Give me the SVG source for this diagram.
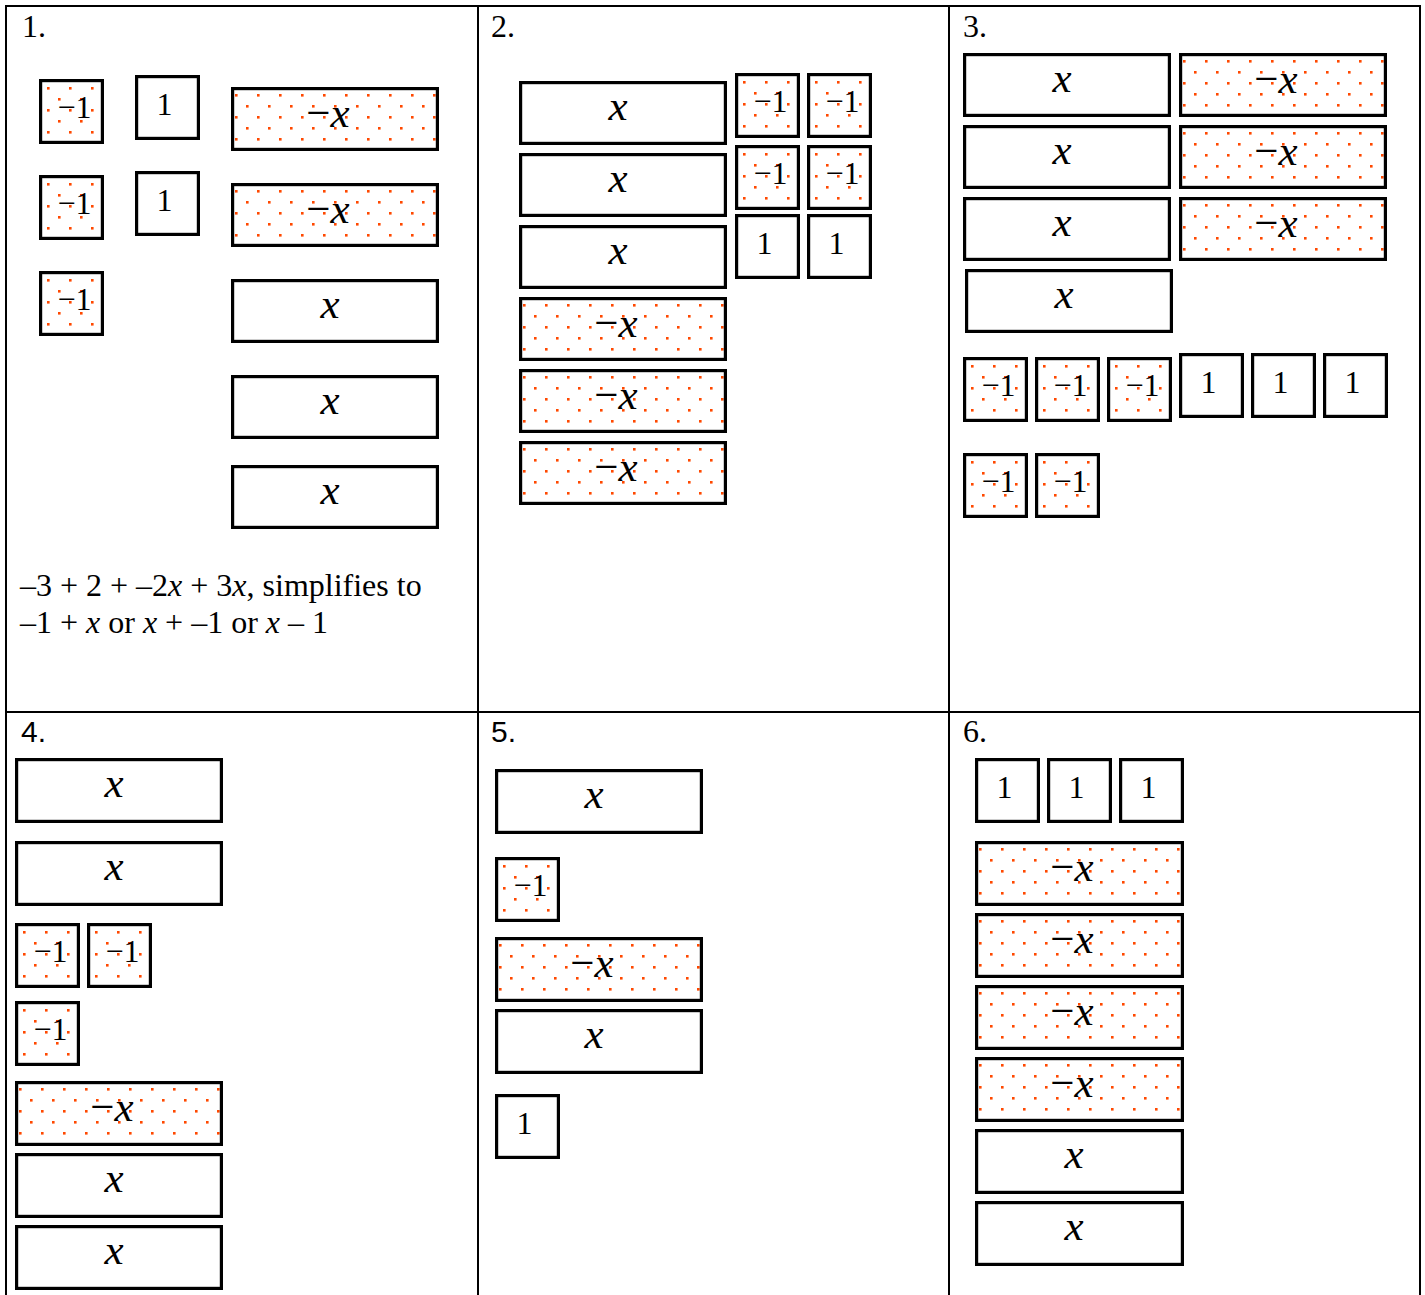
<svg xmlns="http://www.w3.org/2000/svg" width="1425" height="1295" viewBox="0 0 1425 1295">
<defs>
<pattern id="dotsS" patternUnits="userSpaceOnUse" x="0" y="0" width="22" height="22">
<rect x="8" y="8" width="2.6" height="2.6" fill="#ff4800"/>
<rect x="19" y="19" width="2.6" height="2.6" fill="#ff4800"/>
</pattern>
<pattern id="dotsL" patternUnits="userSpaceOnUse" x="0" y="0" width="22" height="22">
<rect x="4" y="7" width="2.6" height="2.6" fill="#ff4800"/>
<rect x="15" y="18" width="2.6" height="2.6" fill="#ff4800"/>
</pattern>
</defs>
<style>
.grid{stroke:#000;stroke-width:2;fill:none}
.s{fill:#fff;stroke:#000;stroke-width:3.2}
.sn{fill:url(#dotsS);stroke:#000;stroke-width:3.2}
.ln{fill:url(#dotsL);stroke:#000;stroke-width:3.2}
.l{fill:#fff;stroke:#000;stroke-width:3.2}
</style>
<rect x="0" y="0" width="1425" height="1295" fill="#fff"/>
<g id="table">
<line class="grid" x1="5" y1="6" x2="1421" y2="6"/>
<line class="grid" x1="5" y1="712" x2="1421" y2="712"/>
<line class="grid" x1="6" y1="5" x2="6" y2="1295"/>
<line class="grid" x1="478" y1="5" x2="478" y2="1295"/>
<line class="grid" x1="949" y1="5" x2="949" y2="1295"/>
<line class="grid" x1="1420" y1="5" x2="1420" y2="1295"/>
</g>
<g id="labels" font-size="32" fill="#000">
<text x="22" y="37" font-family="Liberation Serif">1.</text>
<text x="491" y="37" font-family="Liberation Serif">2.</text>
<text x="963" y="37" font-family="Liberation Serif">3.</text>
<text x="21" y="742" font-family="Liberation Sans" font-size="30">4.</text>
<text x="491" y="742" font-family="Liberation Sans" font-size="30">5.</text>
<text x="963" y="742" font-family="Liberation Serif">6.</text>
</g>
<g id="p1-text" font-family="Liberation Serif" font-size="32" fill="#000">
<text x="20" y="596">–3 + 2 + –2<tspan font-style="italic">x</tspan> + 3<tspan font-style="italic">x</tspan>, simplifies to</text>
<text x="20" y="633">–1 + <tspan font-style="italic">x</tspan> or <tspan font-style="italic">x</tspan> + –1 or <tspan font-style="italic">x</tspan> – 1</text>
</g>
<g id="connectors"/>
<g id="tiles">
<!-- Panel 1 -->
<g id="p1-n1" transform="translate(39,79)"><rect class="sn" x="1.6" y="1.6" width="61.8" height="61.8"/><text x="35.5" y="39" font-family="Liberation Serif" font-size="32" text-anchor="middle">−1</text></g>
<g id="p1-n2" transform="translate(39,175)"><rect class="sn" x="1.6" y="1.6" width="61.8" height="61.8"/><text x="35.5" y="39" font-family="Liberation Serif" font-size="32" text-anchor="middle">−1</text></g>
<g id="p1-n3" transform="translate(39,271)"><rect class="sn" x="1.6" y="1.6" width="61.8" height="61.8"/><text x="35.5" y="39" font-family="Liberation Serif" font-size="32" text-anchor="middle">−1</text></g>
<g id="p1-o1" transform="translate(135,75)"><rect class="s" x="1.6" y="1.6" width="61.8" height="61.8"/><text x="29.5" y="40" font-family="Liberation Serif" font-size="32" text-anchor="middle">1</text></g>
<g id="p1-o2" transform="translate(135,171)"><rect class="s" x="1.6" y="1.6" width="61.8" height="61.8"/><text x="29.5" y="40" font-family="Liberation Serif" font-size="32" text-anchor="middle">1</text></g>
<g id="p1-mx1" transform="translate(231,87)"><rect class="ln" x="1.6" y="1.6" width="204.8" height="60.8"/><text x="97" y="40" font-family="Liberation Serif" font-size="43" text-anchor="middle">−<tspan font-style="italic">x</tspan></text></g>
<g id="p1-mx2" transform="translate(231,183)"><rect class="ln" x="1.6" y="1.6" width="204.8" height="60.8"/><text x="97" y="40" font-family="Liberation Serif" font-size="43" text-anchor="middle">−<tspan font-style="italic">x</tspan></text></g>
<g id="p1-x1" transform="translate(231,279)"><rect class="l" x="1.6" y="1.6" width="204.8" height="60.8"/><text x="99" y="39" font-family="Liberation Serif" font-size="43" font-style="italic" text-anchor="middle">x</text></g>
<g id="p1-x2" transform="translate(231,375)"><rect class="l" x="1.6" y="1.6" width="204.8" height="60.8"/><text x="99" y="39" font-family="Liberation Serif" font-size="43" font-style="italic" text-anchor="middle">x</text></g>
<g id="p1-x3" transform="translate(231,465)"><rect class="l" x="1.6" y="1.6" width="204.8" height="60.8"/><text x="99" y="39" font-family="Liberation Serif" font-size="43" font-style="italic" text-anchor="middle">x</text></g>
<!-- Panel 2 -->
<g id="p2-x1" transform="translate(519,81)"><rect class="l" x="1.6" y="1.6" width="204.8" height="60.8"/><text x="99" y="39" font-family="Liberation Serif" font-size="43" font-style="italic" text-anchor="middle">x</text></g>
<g id="p2-x2" transform="translate(519,153)"><rect class="l" x="1.6" y="1.6" width="204.8" height="60.8"/><text x="99" y="39" font-family="Liberation Serif" font-size="43" font-style="italic" text-anchor="middle">x</text></g>
<g id="p2-x3" transform="translate(519,225)"><rect class="l" x="1.6" y="1.6" width="204.8" height="60.8"/><text x="99" y="39" font-family="Liberation Serif" font-size="43" font-style="italic" text-anchor="middle">x</text></g>
<g id="p2-mx1" transform="translate(519,297)"><rect class="ln" x="1.6" y="1.6" width="204.8" height="60.8"/><text x="97" y="40" font-family="Liberation Serif" font-size="43" text-anchor="middle">−<tspan font-style="italic">x</tspan></text></g>
<g id="p2-mx2" transform="translate(519,369)"><rect class="ln" x="1.6" y="1.6" width="204.8" height="60.8"/><text x="97" y="40" font-family="Liberation Serif" font-size="43" text-anchor="middle">−<tspan font-style="italic">x</tspan></text></g>
<g id="p2-mx3" transform="translate(519,441)"><rect class="ln" x="1.6" y="1.6" width="204.8" height="60.8"/><text x="97" y="40" font-family="Liberation Serif" font-size="43" text-anchor="middle">−<tspan font-style="italic">x</tspan></text></g>
<g id="p2-n1" transform="translate(735,73)"><rect class="sn" x="1.6" y="1.6" width="61.8" height="61.8"/><text x="35.5" y="39" font-family="Liberation Serif" font-size="32" text-anchor="middle">−1</text></g>
<g id="p2-n2" transform="translate(807,73)"><rect class="sn" x="1.6" y="1.6" width="61.8" height="61.8"/><text x="35.5" y="39" font-family="Liberation Serif" font-size="32" text-anchor="middle">−1</text></g>
<g id="p2-n3" transform="translate(735,145)"><rect class="sn" x="1.6" y="1.6" width="61.8" height="61.8"/><text x="35.5" y="39" font-family="Liberation Serif" font-size="32" text-anchor="middle">−1</text></g>
<g id="p2-n4" transform="translate(807,145)"><rect class="sn" x="1.6" y="1.6" width="61.8" height="61.8"/><text x="35.5" y="39" font-family="Liberation Serif" font-size="32" text-anchor="middle">−1</text></g>
<g id="p2-o1" transform="translate(735,214)"><rect class="s" x="1.6" y="1.6" width="61.8" height="61.8"/><text x="29.5" y="40" font-family="Liberation Serif" font-size="32" text-anchor="middle">1</text></g>
<g id="p2-o2" transform="translate(807,214)"><rect class="s" x="1.6" y="1.6" width="61.8" height="61.8"/><text x="29.5" y="40" font-family="Liberation Serif" font-size="32" text-anchor="middle">1</text></g>
<!-- Panel 3 -->
<g id="p3-x1" transform="translate(963,53)"><rect class="l" x="1.6" y="1.6" width="204.8" height="60.8"/><text x="99" y="39" font-family="Liberation Serif" font-size="43" font-style="italic" text-anchor="middle">x</text></g>
<g id="p3-x2" transform="translate(963,125)"><rect class="l" x="1.6" y="1.6" width="204.8" height="60.8"/><text x="99" y="39" font-family="Liberation Serif" font-size="43" font-style="italic" text-anchor="middle">x</text></g>
<g id="p3-x3" transform="translate(963,197)"><rect class="l" x="1.6" y="1.6" width="204.8" height="60.8"/><text x="99" y="39" font-family="Liberation Serif" font-size="43" font-style="italic" text-anchor="middle">x</text></g>
<g id="p3-x4" transform="translate(965,269)"><rect class="l" x="1.6" y="1.6" width="204.8" height="60.8"/><text x="99" y="39" font-family="Liberation Serif" font-size="43" font-style="italic" text-anchor="middle">x</text></g>
<g id="p3-mx1" transform="translate(1179,53)"><rect class="ln" x="1.6" y="1.6" width="204.8" height="60.8"/><text x="97" y="40" font-family="Liberation Serif" font-size="43" text-anchor="middle">−<tspan font-style="italic">x</tspan></text></g>
<g id="p3-mx2" transform="translate(1179,125)"><rect class="ln" x="1.6" y="1.6" width="204.8" height="60.8"/><text x="97" y="40" font-family="Liberation Serif" font-size="43" text-anchor="middle">−<tspan font-style="italic">x</tspan></text></g>
<g id="p3-mx3" transform="translate(1179,197)"><rect class="ln" x="1.6" y="1.6" width="204.8" height="60.8"/><text x="97" y="40" font-family="Liberation Serif" font-size="43" text-anchor="middle">−<tspan font-style="italic">x</tspan></text></g>
<g id="p3-n1" transform="translate(963,357)"><rect class="sn" x="1.6" y="1.6" width="61.8" height="61.8"/><text x="35.5" y="39" font-family="Liberation Serif" font-size="32" text-anchor="middle">−1</text></g>
<g id="p3-n2" transform="translate(1035,357)"><rect class="sn" x="1.6" y="1.6" width="61.8" height="61.8"/><text x="35.5" y="39" font-family="Liberation Serif" font-size="32" text-anchor="middle">−1</text></g>
<g id="p3-n3" transform="translate(1107,357)"><rect class="sn" x="1.6" y="1.6" width="61.8" height="61.8"/><text x="35.5" y="39" font-family="Liberation Serif" font-size="32" text-anchor="middle">−1</text></g>
<g id="p3-o1" transform="translate(1179,353)"><rect class="s" x="1.6" y="1.6" width="61.8" height="61.8"/><text x="29.5" y="40" font-family="Liberation Serif" font-size="32" text-anchor="middle">1</text></g>
<g id="p3-o2" transform="translate(1251,353)"><rect class="s" x="1.6" y="1.6" width="61.8" height="61.8"/><text x="29.5" y="40" font-family="Liberation Serif" font-size="32" text-anchor="middle">1</text></g>
<g id="p3-o3" transform="translate(1323,353)"><rect class="s" x="1.6" y="1.6" width="61.8" height="61.8"/><text x="29.5" y="40" font-family="Liberation Serif" font-size="32" text-anchor="middle">1</text></g>
<g id="p3-n4" transform="translate(963,453)"><rect class="sn" x="1.6" y="1.6" width="61.8" height="61.8"/><text x="35.5" y="39" font-family="Liberation Serif" font-size="32" text-anchor="middle">−1</text></g>
<g id="p3-n5" transform="translate(1035,453)"><rect class="sn" x="1.6" y="1.6" width="61.8" height="61.8"/><text x="35.5" y="39" font-family="Liberation Serif" font-size="32" text-anchor="middle">−1</text></g>
<!-- Panel 4 -->
<g id="p4-x1" transform="translate(15,758)"><rect class="l" x="1.6" y="1.6" width="204.8" height="61.8"/><text x="99" y="39" font-family="Liberation Serif" font-size="43" font-style="italic" text-anchor="middle">x</text></g>
<g id="p4-x2" transform="translate(15,841)"><rect class="l" x="1.6" y="1.6" width="204.8" height="61.8"/><text x="99" y="39" font-family="Liberation Serif" font-size="43" font-style="italic" text-anchor="middle">x</text></g>
<g id="p4-n1" transform="translate(15,923)"><rect class="sn" x="1.6" y="1.6" width="61.8" height="61.8"/><text x="35.5" y="39" font-family="Liberation Serif" font-size="32" text-anchor="middle">−1</text></g>
<g id="p4-n2" transform="translate(87,923)"><rect class="sn" x="1.6" y="1.6" width="61.8" height="61.8"/><text x="35.5" y="39" font-family="Liberation Serif" font-size="32" text-anchor="middle">−1</text></g>
<g id="p4-n3" transform="translate(15,1001)"><rect class="sn" x="1.6" y="1.6" width="61.8" height="61.8"/><text x="35.5" y="39" font-family="Liberation Serif" font-size="32" text-anchor="middle">−1</text></g>
<g id="p4-mx1" transform="translate(15,1081)"><rect class="ln" x="1.6" y="1.6" width="204.8" height="61.8"/><text x="97" y="40" font-family="Liberation Serif" font-size="43" text-anchor="middle">−<tspan font-style="italic">x</tspan></text></g>
<g id="p4-x3" transform="translate(15,1153)"><rect class="l" x="1.6" y="1.6" width="204.8" height="61.8"/><text x="99" y="39" font-family="Liberation Serif" font-size="43" font-style="italic" text-anchor="middle">x</text></g>
<g id="p4-x4" transform="translate(15,1225)"><rect class="l" x="1.6" y="1.6" width="204.8" height="61.8"/><text x="99" y="39" font-family="Liberation Serif" font-size="43" font-style="italic" text-anchor="middle">x</text></g>
<!-- Panel 5 -->
<g id="p5-x1" transform="translate(495,769)"><rect class="l" x="1.6" y="1.6" width="204.8" height="61.8"/><text x="99" y="39" font-family="Liberation Serif" font-size="43" font-style="italic" text-anchor="middle">x</text></g>
<g id="p5-n1" transform="translate(495,857)"><rect class="sn" x="1.6" y="1.6" width="61.8" height="61.8"/><text x="35.5" y="39" font-family="Liberation Serif" font-size="32" text-anchor="middle">−1</text></g>
<g id="p5-mx1" transform="translate(495,937)"><rect class="ln" x="1.6" y="1.6" width="204.8" height="61.8"/><text x="97" y="40" font-family="Liberation Serif" font-size="43" text-anchor="middle">−<tspan font-style="italic">x</tspan></text></g>
<g id="p5-x2" transform="translate(495,1009)"><rect class="l" x="1.6" y="1.6" width="204.8" height="61.8"/><text x="99" y="39" font-family="Liberation Serif" font-size="43" font-style="italic" text-anchor="middle">x</text></g>
<g id="p5-o1" transform="translate(495,1094)"><rect class="s" x="1.6" y="1.6" width="61.8" height="61.8"/><text x="29.5" y="40" font-family="Liberation Serif" font-size="32" text-anchor="middle">1</text></g>
<!-- Panel 6 -->
<g id="p6-o1" transform="translate(975,758)"><rect class="s" x="1.6" y="1.6" width="61.8" height="61.8"/><text x="29.5" y="40" font-family="Liberation Serif" font-size="32" text-anchor="middle">1</text></g>
<g id="p6-o2" transform="translate(1047,758)"><rect class="s" x="1.6" y="1.6" width="61.8" height="61.8"/><text x="29.5" y="40" font-family="Liberation Serif" font-size="32" text-anchor="middle">1</text></g>
<g id="p6-o3" transform="translate(1119,758)"><rect class="s" x="1.6" y="1.6" width="61.8" height="61.8"/><text x="29.5" y="40" font-family="Liberation Serif" font-size="32" text-anchor="middle">1</text></g>
<g id="p6-mx1" transform="translate(975,841)"><rect class="ln" x="1.6" y="1.6" width="205.8" height="61.8"/><text x="97" y="40" font-family="Liberation Serif" font-size="43" text-anchor="middle">−<tspan font-style="italic">x</tspan></text></g>
<g id="p6-mx2" transform="translate(975,913)"><rect class="ln" x="1.6" y="1.6" width="205.8" height="61.8"/><text x="97" y="40" font-family="Liberation Serif" font-size="43" text-anchor="middle">−<tspan font-style="italic">x</tspan></text></g>
<g id="p6-mx3" transform="translate(975,985)"><rect class="ln" x="1.6" y="1.6" width="205.8" height="61.8"/><text x="97" y="40" font-family="Liberation Serif" font-size="43" text-anchor="middle">−<tspan font-style="italic">x</tspan></text></g>
<g id="p6-mx4" transform="translate(975,1057)"><rect class="ln" x="1.6" y="1.6" width="205.8" height="61.8"/><text x="97" y="40" font-family="Liberation Serif" font-size="43" text-anchor="middle">−<tspan font-style="italic">x</tspan></text></g>
<g id="p6-x1" transform="translate(975,1129)"><rect class="l" x="1.6" y="1.6" width="205.8" height="61.8"/><text x="99" y="39" font-family="Liberation Serif" font-size="43" font-style="italic" text-anchor="middle">x</text></g>
<g id="p6-x2" transform="translate(975,1201)"><rect class="l" x="1.6" y="1.6" width="205.8" height="61.8"/><text x="99" y="39" font-family="Liberation Serif" font-size="43" font-style="italic" text-anchor="middle">x</text></g>
</g>
</svg>
